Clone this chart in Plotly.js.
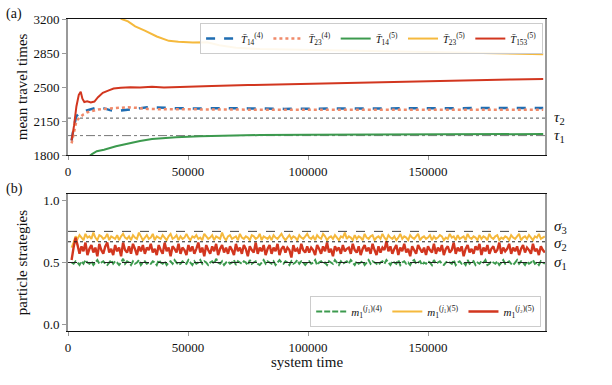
<!DOCTYPE html>
<html>
<head>
<meta charset="utf-8">
<script src="https://cdn.plot.ly/plotly-3.0.1.min.js"></script>
<style>
  html, body { margin: 0; padding: 0; background: #fff; }
  #chart { width: 612px; height: 385px; }
</style>
</head>
<body>
<div id="chart"></div>
<script>
// top panel: mean travel times
let b4X = [1500, 2500, 3500, 5000, 6500, 8000, 10000, 12500, 15000, 17500, 20500, 24000, 28000, 33000, 38000, 45000, 55000, 65000, 75000, 90000, 110000, 130000, 150000, 170000, 198000];
let b4Y = [1950, 2100, 2200, 2235, 2250, 2260, 2275, 2292, 2280, 2262, 2253, 2260, 2275, 2292, 2285, 2282, 2278, 2283, 2280, 2275, 2278, 2282, 2280, 2283, 2285];

let o4X = [1500, 2500, 3500, 5000, 6500, 8000, 10000, 12500, 15000, 18000, 21000, 25000, 29000, 33000, 38000, 45000, 55000, 65000, 75000, 90000, 110000, 130000, 150000, 170000, 198000];
let o4Y = [1920, 2050, 2150, 2190, 2220, 2240, 2255, 2268, 2275, 2282, 2290, 2292, 2285, 2275, 2272, 2270, 2268, 2266, 2268, 2265, 2266, 2264, 2266, 2265, 2265];

let g5X = [8000, 10000, 12000, 15000, 20000, 25000, 30000, 35000, 40000, 45000, 55000, 65000, 80000, 100000, 130000, 160000, 198000];
let g5Y = [1770, 1810, 1840, 1855, 1890, 1920, 1945, 1965, 1975, 1983, 1993, 2000, 2006, 2010, 2013, 2015, 2016];

let y5X = [20000, 22400, 25000, 28000, 32000, 37000, 42000, 46000, 52000, 58000, 63000, 70000, 80000, 100000, 120000, 150000, 175000, 198000];
let y5Y = [3240, 3200, 3175, 3125, 3080, 3020, 2975, 2965, 2958, 2960, 2930, 2905, 2890, 2880, 2870, 2860, 2845, 2838];

let r5X = [1500, 2500, 3500, 4500, 5300, 6000, 6800, 8000, 9500, 11000, 12500, 14500, 17000, 19000, 22000, 26000, 30000, 35000, 40000, 50000, 60000, 75000, 90000, 100000, 115000, 130000, 150000, 170000, 185000, 198000];
let r5Y = [1950, 2100, 2300, 2420, 2452, 2380, 2345, 2352, 2340, 2350, 2395, 2440, 2465, 2485, 2492, 2498, 2496, 2502, 2495, 2505, 2510, 2520, 2528, 2535, 2545, 2552, 2565, 2572, 2578, 2582];

// bottom panel: particle strategies (sampled every 825 steps from t = 1500)
let mG = [0.50,0.49,0.51,0.50,0.48,0.51,0.49,0.52,0.50,0.49,0.51,0.48,0.50,0.52,0.49,0.50,0.51,0.49,0.48,0.50,
          0.52,0.49,0.51,0.50,0.48,0.50,0.53,0.49,0.51,0.50,0.48,0.51,0.49,0.50,0.52,0.48,0.50,0.51,0.49,0.50,
          0.49,0.51,0.50,0.48,0.52,0.50,0.49,0.51,0.48,0.50,0.51,0.49,0.52,0.50,0.48,0.49,0.51,0.50,0.49,0.52,
          0.50,0.48,0.51,0.49,0.50,0.52,0.49,0.51,0.50,0.48,0.50,0.51,0.49,0.53,0.50,0.49,0.51,0.48,0.50,0.51,
          0.49,0.50,0.52,0.48,0.51,0.50,0.49,0.51,0.50,0.48,0.52,0.49,0.50,0.51,0.49,0.48,0.50,0.52,0.49,0.51,
          0.50,0.49,0.51,0.48,0.50,0.52,0.50,0.49,0.51,0.50,0.48,0.51,0.49,0.50,0.52,0.49,0.51,0.50,0.48,0.50,
          0.51,0.49,0.50,0.52,0.48,0.50,0.51,0.49,0.50,0.48,0.51,0.50,0.49,0.52,0.50,0.48,0.51,0.49,0.50,0.51,
          0.49,0.52,0.50,0.48,0.51,0.49,0.50,0.51,0.48,0.50,0.52,0.49,0.51,0.50,0.49,0.48,0.50,0.51,0.49,0.52,
          0.50,0.48,0.51,0.50,0.49,0.52,0.48,0.50,0.51,0.49,0.50,0.48,0.51,0.52,0.49,0.50,0.51,0.48,0.50,0.49,
          0.51,0.50,0.48,0.52,0.49,0.50,0.51,0.49,0.48,0.50,0.51,0.50,0.49,0.52,0.48,0.50,0.51,0.49,0.50,0.48,
          0.52,0.49,0.50,0.51,0.48,0.50,0.49,0.51,0.50,0.52,0.48,0.49,0.51,0.50,0.49,0.51,0.48,0.50,0.52,0.49,
          0.50,0.51,0.49,0.48,0.50,0.52,0.49,0.51,0.50,0.48,0.51,0.49,0.50,0.52,0.49,0.50,0.48,0.51,0.50,0.49];
let mY = [0.62,0.66,0.71,0.69,0.72,0.70,0.68,0.73,0.70,0.71,0.69,0.74,0.70,0.68,0.72,0.71,0.69,0.70,0.73,0.68,
          0.71,0.70,0.69,0.72,0.68,0.71,0.73,0.70,0.69,0.71,0.68,0.72,0.70,0.69,0.74,0.71,0.68,0.70,0.72,0.69,
          0.70,0.73,0.68,0.71,0.70,0.69,0.72,0.70,0.68,0.71,0.73,0.69,0.70,0.72,0.68,0.71,0.69,0.70,0.73,0.70,
          0.68,0.71,0.70,0.72,0.69,0.70,0.68,0.73,0.71,0.69,0.70,0.72,0.68,0.71,0.70,0.69,0.74,0.70,0.68,0.71,
          0.72,0.69,0.70,0.71,0.68,0.73,0.70,0.69,0.71,0.70,0.68,0.72,0.71,0.69,0.70,0.73,0.68,0.71,0.70,0.69,
          0.71,0.68,0.72,0.70,0.69,0.71,0.73,0.70,0.68,0.70,0.72,0.69,0.71,0.70,0.68,0.72,0.70,0.69,0.71,0.73,
          0.70,0.69,0.71,0.68,0.72,0.70,0.69,0.73,0.71,0.68,0.70,0.71,0.69,0.72,0.70,0.68,0.71,0.70,0.74,0.69,
          0.71,0.70,0.68,0.72,0.69,0.71,0.70,0.68,0.73,0.70,0.69,0.71,0.72,0.68,0.70,0.71,0.69,0.73,0.70,0.68,
          0.72,0.70,0.69,0.71,0.68,0.70,0.73,0.69,0.71,0.70,0.68,0.72,0.70,0.69,0.71,0.73,0.68,0.70,0.71,0.69,
          0.70,0.72,0.68,0.71,0.69,0.70,0.72,0.71,0.68,0.70,0.69,0.73,0.70,0.71,0.68,0.72,0.69,0.70,0.71,0.68,
          0.73,0.70,0.69,0.71,0.70,0.68,0.72,0.69,0.71,0.70,0.68,0.73,0.70,0.69,0.71,0.72,0.68,0.70,0.69,0.71,
          0.70,0.68,0.72,0.70,0.69,0.71,0.73,0.68,0.70,0.71,0.69,0.72,0.70,0.68,0.71,0.70,0.73,0.69,0.70,0.71];
let mR = [0.52,0.62,0.70,0.64,0.57,0.63,0.59,0.66,0.56,0.61,0.64,0.58,0.62,0.55,0.65,0.60,0.57,0.63,0.66,0.58,
          0.61,0.56,0.64,0.59,0.62,0.55,0.66,0.60,0.58,0.63,0.57,0.65,0.61,0.56,0.63,0.59,0.64,0.57,0.62,0.60,
          0.65,0.58,0.61,0.56,0.64,0.60,0.57,0.66,0.59,0.62,0.55,0.63,0.61,0.58,0.65,0.57,0.62,0.60,0.56,0.64,
          0.59,0.63,0.57,0.61,0.66,0.58,0.62,0.55,0.64,0.60,0.57,0.63,0.59,0.65,0.56,0.61,0.64,0.58,0.62,0.57,
          0.63,0.60,0.56,0.65,0.59,0.62,0.57,0.64,0.61,0.55,0.63,0.60,0.58,0.66,0.57,0.62,0.59,0.64,0.56,0.61,
          0.64,0.57,0.62,0.59,0.65,0.56,0.61,0.63,0.58,0.62,0.60,0.54,0.64,0.59,0.61,0.57,0.65,0.60,0.58,0.63,
          0.58,0.62,0.60,0.56,0.64,0.61,0.57,0.63,0.59,0.66,0.58,0.61,0.55,0.63,0.60,0.62,0.57,0.64,0.59,0.61,
          0.62,0.57,0.65,0.60,0.58,0.63,0.56,0.61,0.64,0.59,0.62,0.57,0.65,0.60,0.56,0.63,0.58,0.62,0.60,0.67,
          0.59,0.63,0.57,0.61,0.64,0.56,0.62,0.59,0.65,0.58,0.61,0.55,0.63,0.60,0.57,0.64,0.61,0.58,0.62,0.56,
          0.63,0.60,0.58,0.65,0.57,0.62,0.59,0.64,0.56,0.61,0.63,0.58,0.60,0.66,0.57,0.62,0.59,0.63,0.55,0.61,
          0.64,0.58,0.61,0.57,0.63,0.60,0.65,0.56,0.62,0.59,0.64,0.57,0.61,0.63,0.58,0.60,0.66,0.57,0.62,0.59,
          0.61,0.65,0.57,0.62,0.59,0.63,0.56,0.61,0.64,0.58,0.62,0.60,0.57,0.65,0.59,0.61,0.56,0.63,0.60,0.58];

let tau = [2000, 2180];          // tau_1, tau_2
let sigma = [0.5, 2/3, 0.75];    // sigma_1, sigma_2, sigma_3
let xTicks = [0, 50000, 100000, 150000];

let font = "'Liberation Serif', 'DejaVu Serif', serif";
let cBlue = '#1f6db2', cOrange = '#f08a6a', cGreen = '#3c9a4e', cYellow = '#f5b93d', cRed = '#d2361f';

let data = [
    {x: b4X, y: b4Y, type: 'scatter', mode: 'lines', name: '<i>T̄</i><sub>14</sub><sup>(4)</sup>',
     line: {color: cBlue, width: 2.5, dash: 'dash'}, xaxis: 'x', yaxis: 'y'},
    {x: o4X, y: o4Y, type: 'scatter', mode: 'lines', name: '<i>T̄</i><sub>23</sub><sup>(4)</sup>',
     line: {color: cOrange, width: 2.5, dash: 'dot'}, xaxis: 'x', yaxis: 'y'},
    {x: g5X, y: g5Y, type: 'scatter', mode: 'lines', name: '<i>T̄</i><sub>14</sub><sup>(5)</sup>',
     line: {color: cGreen, width: 2}, xaxis: 'x', yaxis: 'y'},
    {x: y5X, y: y5Y, type: 'scatter', mode: 'lines', name: '<i>T̄</i><sub>23</sub><sup>(5)</sup>',
     line: {color: cYellow, width: 2}, xaxis: 'x', yaxis: 'y'},
    {x: r5X, y: r5Y, type: 'scatter', mode: 'lines', name: '<i>T̄</i><sub>153</sub><sup>(5)</sup>',
     line: {color: cRed, width: 2}, xaxis: 'x', yaxis: 'y'},

    {x0: 1500, dx: 825, y: mG, type: 'scatter', mode: 'lines', name: '<i>m</i><sub>1</sub><sup>(<i>j</i>₁)(4)</sup>',
     line: {color: cGreen, width: 2, dash: '6px,2px', simplify: false}, xaxis: 'x2', yaxis: 'y2', legend: 'legend2'},
    {x0: 1500, dx: 825, y: mY, type: 'scatter', mode: 'lines', name: '<i>m</i><sub>1</sub><sup>(<i>j</i>₁)(5)</sup>',
     line: {color: cYellow, width: 2, simplify: false}, xaxis: 'x2', yaxis: 'y2', legend: 'legend2'},
    {x0: 1500, dx: 825, y: mR, type: 'scatter', mode: 'lines', name: '<i>m</i><sub>1</sub><sup>(<i>j</i>₂)(5)</sup>',
     line: {color: cRed, width: 2.4, simplify: false}, xaxis: 'x2', yaxis: 'y2', legend: 'legend2'}
];

let hline = (yref, y, dash, color, layer) => ({
    type: 'line', xref: 'paper', x0: 0, x1: 1.005, yref: yref, y0: y, y1: y,
    line: {color: color, width: 1, dash: dash}, layer: layer
});

let shapes = [
    hline('y', tau[0], 'dashdot', '#777', 'below'),
    hline('y', tau[1], 'dot', '#555', 'below'),
    hline('y2', sigma[0], 'dash', '#222', 'above'),
    hline('y2', sigma[1], 'dot', '#222', 'above'),
    hline('y2', sigma[2], 'dash', '#444', 'above')
];

let sideLabel = (yref, y, txt) => ({
    xref: 'paper', x: 1.015, xanchor: 'left', yref: yref, y: y, text: txt,
    showarrow: false, font: {family: font, size: 15, color: '#111'}
});

let note = (x, y, txt, size, angle) => ({
    xref: 'paper', yref: 'paper', x: x, y: y, text: txt, showarrow: false,
    xanchor: 'center', yanchor: 'middle', textangle: angle || 0,
    font: {family: font, size: size, color: '#111'}
});

let annotations = [
    sideLabel('y', tau[0], '<i>τ</i><sub>1</sub>'),
    sideLabel('y', tau[1], '<i>τ</i><sub>2</sub>'),
    sideLabel('y2', sigma[0], '<i>σ</i><sub>1</sub>'),
    sideLabel('y2', sigma[1] - 0.015, '<i>σ</i><sub>2</sub>'),
    sideLabel('y2', sigma[2] + 0.035, '<i>σ</i><sub>3</sub>'),
    note(-0.113, 1.017, '(a)', 14),
    note(-0.113, 0.455, '(b)', 14),
    note(-0.096, 0.782, 'mean travel times', 15, -90),
    note(-0.096, 0.221, 'particle strategies', 15, -90),
    note(0.5, -0.099, 'system time', 15)
];

let xBase = {
    range: [0, 198750], tickvals: xTicks, ticktext: xTicks.map(String),
    showline: true, linecolor: '#111', linewidth: 1.2, mirror: true,
    ticks: 'outside', ticklen: 4, tickcolor: '#999', showgrid: false, zeroline: false
};
let yBase = {
    showline: true, linecolor: '#999', linewidth: 2, mirror: true,
    ticks: 'outside', ticklen: 4, tickcolor: '#999', showgrid: false, zeroline: false
};

let layout = {
    width: 612, height: 385,
    margin: {l: 68, r: 67, t: 19, b: 54},
    paper_bgcolor: '#fff', plot_bgcolor: '#fff',
    font: {family: font, size: 13, color: '#111'},
    xaxis: Object.assign({}, xBase, {domain: [0, 1], anchor: 'y'}),
    yaxis: Object.assign({}, yBase, {domain: [0.564, 1], anchor: 'x', range: [1800, 3200],
        tickvals: [1800, 2150, 2500, 2850, 3200]}),
    xaxis2: Object.assign({}, xBase, {domain: [0, 1], anchor: 'y2'}),
    yaxis2: Object.assign({}, yBase, {domain: [0, 0.439], anchor: 'x2', range: [-0.05, 1.05],
        tickvals: [0, 0.5, 1], ticktext: ['0.0', '0.5', '1.0']}),
    legend: {orientation: 'h', xref: 'paper', yref: 'paper', x: 0.996, xanchor: 'right', y: 0.987, yanchor: 'top',
        bgcolor: 'rgba(255,255,255,0.9)', bordercolor: '#ccc', borderwidth: 1,
        font: {size: 10.5}, itemwidth: 30},
    legend2: {orientation: 'h', xref: 'paper', yref: 'paper', x: 0.992, xanchor: 'right', y: 0.013, yanchor: 'bottom',
        bgcolor: 'rgba(255,255,255,0.9)', bordercolor: '#ccc', borderwidth: 1,
        font: {size: 11}, itemwidth: 30},
    shapes: shapes,
    annotations: annotations
};

Plotly.newPlot('chart', data, layout, {staticPlot: true});
</script>
</body>
</html>
